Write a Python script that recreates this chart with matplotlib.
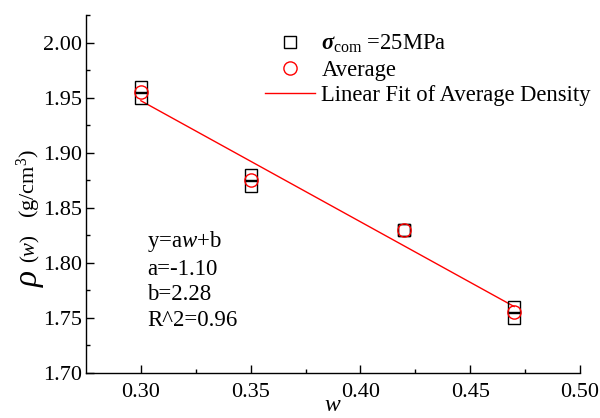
import numpy as np
import matplotlib
matplotlib.use("Agg")
import matplotlib.pyplot as plt

plt.rcParams['font.family'] = ['Liberation Serif', 'DejaVu Serif']
plt.rcParams['mathtext.fontset'] = 'custom'
plt.rcParams['mathtext.rm'] = 'Liberation Serif'
plt.rcParams['mathtext.it'] = 'Liberation Serif:italic'
plt.rcParams['mathtext.bf'] = 'Liberation Serif:bold:italic'

# data
w_samples = [0.30, 0.30, 0.35, 0.35, 0.42, 0.42, 0.47, 0.47]
rho_samples = [1.96, 1.95, 1.88, 1.87, 1.83, 1.83, 1.76, 1.75]
w_avg = [0.30, 0.35, 0.42, 0.47]
rho_avg = [1.955, 1.875, 1.83, 1.755]
xticks = [0.30, 0.35, 0.40, 0.45, 0.50]
yticks = [1.70, 1.75, 1.80, 1.85, 1.90, 1.95, 2.00]

fig = plt.figure(figsize=(6.0, 4.18), dpi=100)
ax = fig.add_axes([86/600, 1-373/418, (580-86)/600, (373-15)/418])

a, b = np.polyfit(w_avg, rho_avg, 1)
xf = np.array([min(w_avg), max(w_avg)])

ax.plot(w_samples, rho_samples, linestyle='none', marker='s', markersize=8.5,
        markerfacecolor='none', markeredgecolor='black', markeredgewidth=1.0,
        label=r'$\mathbf{\sigma}_{\rm com}$ =25MPa', zorder=3)
ax.plot(w_avg, rho_avg, linestyle='none', marker='o', markersize=9.5,
        markerfacecolor='none', markeredgecolor='#ff0000', markeredgewidth=1.0,
        label='Average', zorder=4)
ax.plot(xf, a*xf + b, color='#ff0000', linewidth=1.0,
        label='Linear Fit of Average Density', zorder=2)

ax.set_xlim(0.275, 0.50)
ax.set_ylim(1.70, 2.025)
ax.set_xticks(xticks)
ax.set_yticks(yticks)
ax.set_xticklabels([f'{v:.2f}' for v in xticks])
ax.set_yticklabels([f'{v:.2f}' for v in yticks])
ax.set_xticks([0.325, 0.375, 0.425, 0.475], minor=True)
ax.set_yticks([1.725, 1.775, 1.825, 1.875, 1.925, 1.975, 2.025], minor=True)
ax.tick_params(which='both', direction='in', labelsize=16, width=1.0)
ax.tick_params(which='major', length=6)
ax.tick_params(which='minor', length=3)
ax.tick_params(axis='x', pad=7)
ax.tick_params(axis='y', pad=3)
for s in ['top', 'right']:
    ax.spines[s].set_visible(False)
for s in ['left', 'bottom']:
    ax.spines[s].set_linewidth(1.0)

ax.set_xlabel(r'$w$', fontsize=17, labelpad=-5)

fig.text(31/600, 1-278/418, r'$\rho$', fontsize=24, rotation=90, ha='center', va='center')
fig.text(30/600, 1-263/418, r'($w$)', fontsize=15, rotation=90,
         ha='center', va='bottom')
fig.text(29/600, 1-218/418, r'(g/cm$^3$)', fontsize=16, rotation=90,
         ha='center', va='bottom')

ax.text(0.3027, 1.7845, 'y=a$w$+b\na=-1.10\nb=2.28\nR^2=0.96', fontsize=16.5,
        ha='left', va='center', linespacing=1.3)

leg = ax.legend(loc='upper left', bbox_to_anchor=(0.33, 0.994), frameon=False,
                fontsize=16.3, handlelength=2.2, handletextpad=0.3,
                labelspacing=0.2, borderpad=0.2)

fig.savefig('out.png', dpi=100)
